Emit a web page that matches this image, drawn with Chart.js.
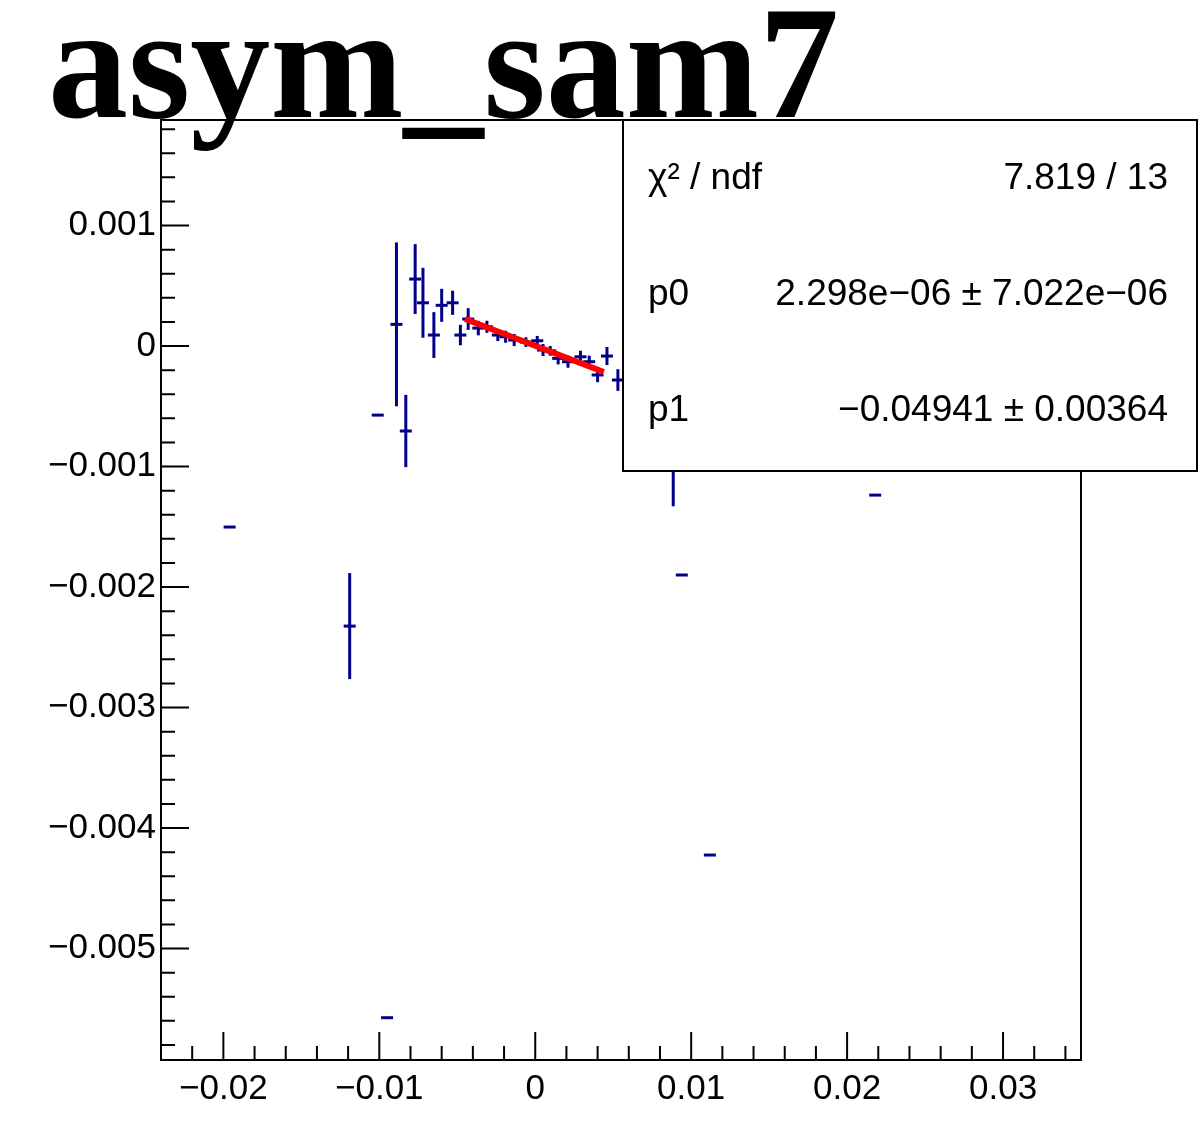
<!DOCTYPE html>
<html>
<head>
<meta charset="utf-8">
<title>asym_sam7</title>
<script src="https://cdn.jsdelivr.net/npm/chart.js@4/dist/chart.umd.min.js"></script>
<style>
  html, body { margin: 0; padding: 0; background: #ffffff; }
  #myChart { display: block; }
</style>
</head>
<body>
<canvas id="myChart" width="1198" height="1128"></canvas>
<script>
// =================================== 数据 =================================== //
// 测量点 x 值
var pointX = [-0.0196, -0.0119, -0.0101, -0.0095, -0.0089, -0.0083, -0.0077, -0.0072, -0.0065, -0.0060,
              -0.0053, -0.0048, -0.0043, -0.00365, -0.0031, -0.0024, -0.0019, -0.00135, -0.0006, 0.00013,
              0.0005, 0.00096, 0.00147, 0.0021, 0.0029, 0.00346, 0.0040, 0.0046, 0.0053, 0.00885,
              0.0094, 0.0112, 0.0218];
// 测量点 y 值
var pointY = [-0.001502, -0.002324, -0.000573, -0.005574, 0.00018, -0.000705, 0.000556, 0.000359, 0.0000913, 0.000338,
              0.000359, 0.0000913, 0.000224, 0.000149, 0.00016, 0.0000913, 0.000077, 0.00005, 0.000033, 0.000044,
              -0.000033, -0.00004, -0.000102, -0.00013, -0.000089, -0.00013, -0.00024, -0.000083, -0.000282, -0.00103,
              -0.0019, -0.004224, -0.001237];
// y 误差
var pointErr = [0, 0.00044, 0, 0, 0.00068, 0.0003, 0.00029, 0.00029, 0.00019, 0.000137,
                0.0001, 0.000085, 0.00009, 0.00006, 0.00005, 0.00005, 0.00005, 0.00005, 0.00004, 0.00004,
                0.00005, 0.00004, 0.00005, 0.00005, 0.00005, 0.00005, 0.00006, 0.000075, 0.00009, 0.0003,
                0, 0, 0];
// 拟合直线两端
var fitX = [-0.0045, 0.0044];
var fitY = [0.000225, -0.000215];
// 刻度
var xTicks = [-0.02, -0.01, 0, 0.01, 0.02, 0.03];
var yTicks = [0.001, 0, -0.001, -0.002, -0.003, -0.004, -0.005];
// 统计框文字
var statNames = ["\u03C7\u00B2 / ndf", "p0", "p1"];
var statValues = ["7.819 / 13", "2.298e\u221206 \u00B1 7.022e\u221206", "\u22120.04941 \u00B1 0.00364"];
var sTitle = "asym_sam7";

// =================================== 设置 =================================== //
var xMin = -0.024, xMax = 0.035;
var yMin = -0.005925, yMax = 0.001876;
var sFont = "'Liberation Sans', Arial, sans-serif";
var sBlue = "#00008b";

function fmt(v) {
    var n = Math.round(v * 1e6) / 1e6;
    return String(n).replace("-", "\u2212");
}

var aPoints = pointX.map(function (x, i) { return {x: x, y: pointY[i]}; });
var aFit = fitX.map(function (x, i) { return {x: x, y: fitY[i]}; });

// 误差棒 (画在数据点之前)
var errorBarPlugin = {
    id: "errorBars",
    beforeDatasetsDraw: function (chart) {
        var ctx = chart.ctx, xs = chart.scales.x, ys = chart.scales.y, a = chart.chartArea;
        ctx.save();
        ctx.beginPath();
        ctx.rect(a.left, a.top, a.right - a.left, a.bottom - a.top);
        ctx.clip();
        ctx.strokeStyle = sBlue;
        ctx.lineWidth = 3;
        pointX.forEach(function (x, i) {
            if (!pointErr[i]) return;
            var px = xs.getPixelForValue(x);
            ctx.beginPath();
            ctx.moveTo(px, ys.getPixelForValue(pointY[i] + pointErr[i]));
            ctx.lineTo(px, ys.getPixelForValue(pointY[i] - pointErr[i]));
            ctx.stroke();
        });
        ctx.restore();
    }
};

// 框、刻度、标题、统计框
var framePlugin = {
    id: "rootFrame",
    afterDraw: function (chart) {
        var ctx = chart.ctx, xs = chart.scales.x, ys = chart.scales.y, a = chart.chartArea;
        var v, p;
        ctx.save();
        ctx.strokeStyle = "#000000";
        ctx.lineWidth = 2;
        ctx.strokeRect(a.left, a.top, a.right - a.left, a.bottom - a.top);
        ctx.beginPath();
        // x 刻度 (主 0.01, 副 0.002)
        for (v = -0.024; v <= xMax + 1e-9; v += 0.002) {
            p = xs.getPixelForValue(v);
            if (p < a.left + 1 || p > a.right - 1) continue;
            var major = Math.abs(Math.round(v / 0.01) * 0.01 - v) < 1e-7;
            ctx.moveTo(p, a.bottom);
            ctx.lineTo(p, a.bottom - (major ? 28 : 14));
        }
        // y 刻度 (主 0.001, 副 0.0002)
        for (v = -0.0058; v <= yMax + 1e-9; v += 0.0002) {
            p = ys.getPixelForValue(v);
            if (p < a.top + 1 || p > a.bottom - 1) continue;
            var majorY = Math.abs(Math.round(v / 0.001) * 0.001 - v) < 1e-8;
            ctx.moveTo(a.left, p);
            ctx.lineTo(a.left + (majorY ? 28 : 14), p);
        }
        ctx.stroke();

        // 标题
        ctx.fillStyle = "#000000";
        ctx.font = "bold 160px 'Liberation Serif', 'Times New Roman', serif";
        ctx.textAlign = "left";
        ctx.textBaseline = "alphabetic";
        ctx.fillText(sTitle, 48, 117);

        // 统计框
        var bx = 623, by = 120, bw = 574, bh = 351;
        ctx.fillStyle = "#ffffff";
        ctx.fillRect(bx, by, bw, bh);
        ctx.strokeRect(bx, by, bw, bh);
        ctx.fillStyle = "#000000";
        ctx.font = "37px " + sFont;
        ctx.textBaseline = "middle";
        var rowY = [179, 295, 411];
        statNames.forEach(function (s, i) {
            ctx.textAlign = "left";
            ctx.fillText(s, 648, rowY[i]);
            ctx.textAlign = "right";
            ctx.fillText(statValues[i], 1168, rowY[i]);
        });
        ctx.restore();
    }
};

// =================================== 图表 =================================== //
var ctx = document.getElementById("myChart");
var chart = new Chart(ctx, {
    type: "scatter",
    data: {
        datasets: [
            {
                type: "line",
                label: "fit",
                data: aFit,
                borderColor: "#ff0000",
                borderWidth: 6,
                pointRadius: 0,
                fill: false
            },
            {
                label: "asym_sam7",
                data: aPoints,
                pointStyle: "line",
                pointRadius: 6,
                pointBorderWidth: 3,
                borderColor: sBlue,
                backgroundColor: sBlue
            }
        ]
    },
    options: {
        responsive: false,
        animation: false,
        layout: { padding: { top: 120, right: 117, left: 0, bottom: 0 } },
        plugins: {
            legend: { display: false },
            tooltip: { enabled: false }
        },
        scales: {
            x: {
                type: "linear",
                min: xMin,
                max: xMax,
                grid: { display: false, drawTicks: false, tickLength: 0 },
                border: { display: false },
                afterBuildTicks: function (s) { s.ticks = xTicks.map(function (v) { return {value: v}; }); },
                afterFit: function (s) { s.height = 68; },
                ticks: {
                    padding: 8,
                    color: "#000000",
                    maxRotation: 0,
                    font: { family: sFont, size: 35 },
                    callback: function (v) { return fmt(v); }
                }
            },
            y: {
                type: "linear",
                min: yMin,
                max: yMax,
                grid: { display: false, drawTicks: false, tickLength: 0 },
                border: { display: false },
                afterBuildTicks: function (s) { s.ticks = yTicks.map(function (v) { return {value: v}; }); },
                afterFit: function (s) { s.width = 161; },
                ticks: {
                    padding: 5,
                    color: "#000000",
                    font: { family: sFont, size: 35 },
                    callback: function (v) { return fmt(v); }
                }
            }
        }
    },
    plugins: [errorBarPlugin, framePlugin]
});
</script>
</body>
</html>
